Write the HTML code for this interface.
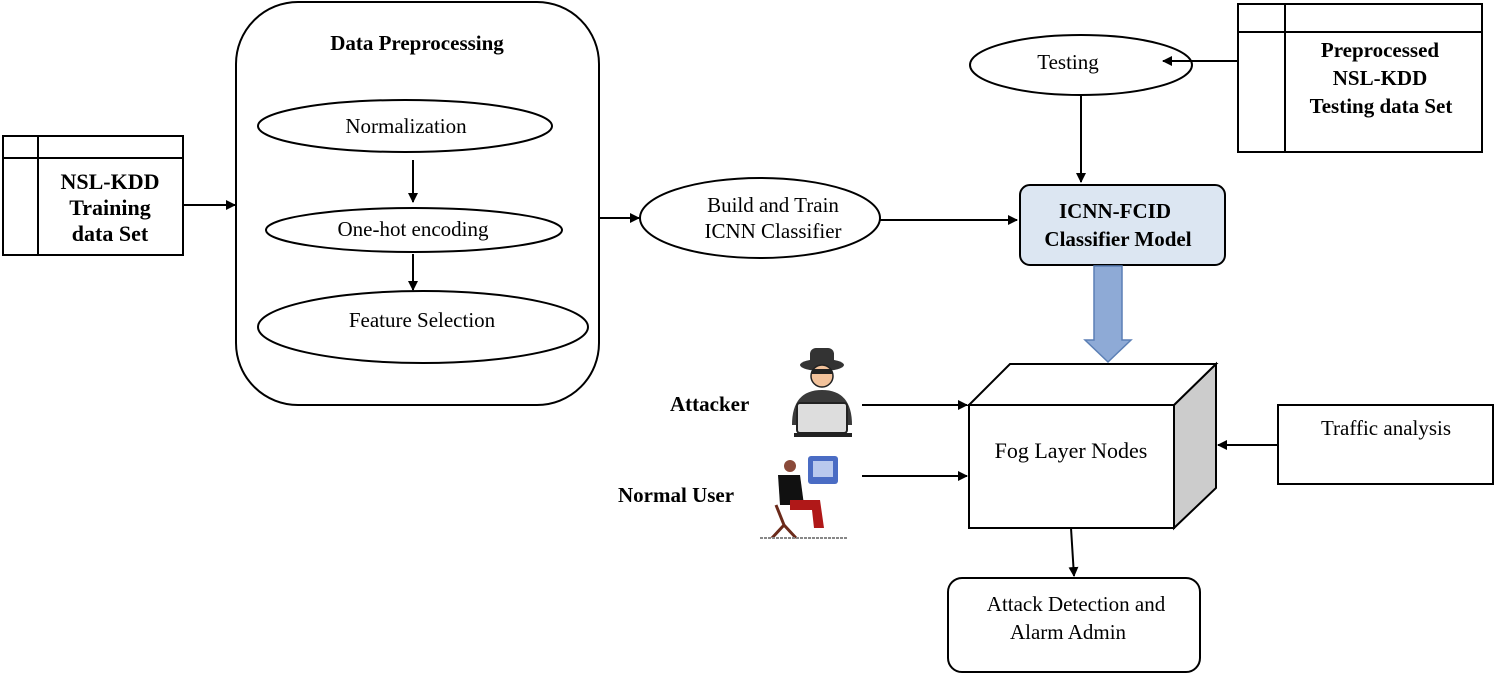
<!DOCTYPE html>
<html><head><meta charset="utf-8"><style>html,body{margin:0;padding:0;background:#fff}svg{display:block}</style></head><body>
<svg width="1494" height="678" viewBox="0 0 1494 678" xmlns="http://www.w3.org/2000/svg" font-family="Liberation Serif, serif" fill="none" stroke="#000" stroke-width="2">
<defs><marker id="a" markerWidth="10" markerHeight="10" refX="9" refY="5" orient="auto" markerUnits="userSpaceOnUse"><path d="M0,0L10,5L0,10z" fill="#000" stroke="none"/></marker></defs>
<!-- Training box -->
<rect x="3" y="136" width="180" height="119"/><line x1="38" y1="136" x2="38" y2="255"/><line x1="3" y1="158" x2="183" y2="158"/>
<g fill="#000" stroke="none" font-weight="bold" font-size="22" text-anchor="middle"><text x="110" y="189">NSL-KDD</text><text x="110" y="215">Training</text><text x="110" y="241">data Set</text></g>
<line x1="183" y1="205" x2="235" y2="205" marker-end="url(#a)"/>
<!-- Preprocessing -->
<rect x="236" y="2" width="363" height="403" rx="62"/>
<text x="417" y="50" fill="#000" stroke="none" font-weight="bold" font-size="21" text-anchor="middle">Data Preprocessing</text>
<ellipse cx="405" cy="126" rx="147" ry="26"/><ellipse cx="414" cy="230" rx="148" ry="22"/><ellipse cx="423" cy="327" rx="165" ry="36"/>
<line x1="413" y1="160" x2="413" y2="202" marker-end="url(#a)"/><line x1="413" y1="254" x2="413" y2="290" marker-end="url(#a)"/>
<g fill="#000" stroke="none" font-size="21" text-anchor="middle"><text x="406" y="133">Normalization</text><text x="413" y="236">One-hot encoding</text><text x="422" y="327">Feature Selection</text></g>
<line x1="599" y1="218" x2="639" y2="218" marker-end="url(#a)"/>
<ellipse cx="760" cy="218" rx="120" ry="40"/>
<g fill="#000" stroke="none" font-size="21" text-anchor="middle"><text x="773" y="212">Build and Train</text><text x="773" y="238">ICNN Classifier</text></g>
<line x1="880" y1="220" x2="1017" y2="220" marker-end="url(#a)"/>
<!-- ICNN -->
<rect x="1020" y="185" width="205" height="80" rx="10" fill="#dce6f2"/>
<g fill="#000" stroke="none" font-weight="bold" font-size="21" text-anchor="middle"><text x="1115" y="218">ICNN-FCID</text><text x="1118" y="246">Classifier Model</text></g>
<!-- Testing -->
<ellipse cx="1081" cy="65" rx="111" ry="30"/>
<text x="1068" y="69" fill="#000" stroke="none" font-size="21" text-anchor="middle">Testing</text>
<line x1="1081" y1="95" x2="1081" y2="182" marker-end="url(#a)"/>
<rect x="1238" y="4" width="244" height="148"/><line x1="1285" y1="4" x2="1285" y2="152"/><line x1="1238" y1="32" x2="1482" y2="32"/>
<g fill="#000" stroke="none" font-weight="bold" font-size="21" text-anchor="middle"><text x="1380" y="57">Preprocessed</text><text x="1380" y="85">NSL-KDD</text><text x="1381" y="113">Testing data Set</text></g>
<line x1="1238" y1="61" x2="1163" y2="61" marker-end="url(#a)"/>
<!-- block arrow -->
<path d="M1094,266 L1122,266 L1122,340 L1131,340 L1108,362 L1085,340 L1094,340 Z" fill="#8eaad6" stroke="#5b7fb5" stroke-width="1.5"/>
<!-- Cube -->
<path d="M1174,405 L1216,364 L1216,488 L1174,528 Z" fill="#cccccc"/>
<path d="M969,405 L1010,364 L1216,364 L1174,405 Z" fill="#fff"/>
<rect x="969" y="405" width="205" height="123" fill="#fff"/>
<text x="1071" y="458" fill="#000" stroke="none" font-size="22" text-anchor="middle">Fog  Layer Nodes</text>
<line x1="862" y1="405" x2="967" y2="405" marker-end="url(#a)"/>
<line x1="862" y1="476" x2="967" y2="476" marker-end="url(#a)"/>
<rect x="1278" y="405" width="215" height="79"/>
<text x="1386" y="435" fill="#000" stroke="none" font-size="21" text-anchor="middle">Traffic analysis</text>
<line x1="1278" y1="445" x2="1218" y2="445" marker-end="url(#a)"/>
<line x1="1071" y1="528" x2="1074" y2="576" marker-end="url(#a)"/>
<rect x="948" y="578" width="252" height="94" rx="14"/>
<g fill="#000" stroke="none" font-size="21" text-anchor="middle"><text x="1076" y="611">Attack Detection  and</text><text x="1068" y="639">Alarm Admin</text></g>
<!-- labels -->
<g fill="#000" stroke="none" font-weight="bold" font-size="21"><text x="670" y="411">Attacker</text><text x="618" y="502">Normal User</text></g>
<!-- attacker icon -->
<g stroke="none">
<ellipse cx="822" cy="365" rx="22" ry="6" fill="#333"/><rect x="810" y="348" width="24" height="18" rx="6" fill="#333"/>
<circle cx="822" cy="376" r="11" fill="#f2c29b" stroke="#222" stroke-width="1.5"/>
<rect x="812" y="369" width="20" height="5" fill="#222"/>
<path d="M792,425 Q792,390 822,390 Q852,390 852,425 Z" fill="#3a3a3a"/>
<rect x="797" y="403" width="50" height="30" rx="3" fill="#ddd" stroke="#222" stroke-width="2"/>
<rect x="794" y="433" width="58" height="4" fill="#222"/>
</g>
<!-- normal user icon -->
<g stroke="none">
<rect x="808" y="456" width="30" height="28" rx="3" fill="#4a6cc4"/><rect x="813" y="461" width="20" height="16" fill="#b9c9ee"/>
<circle cx="790" cy="466" r="6" fill="#8a4a3a"/>
<path d="M778,475 L800,475 L804,505 L780,505 Z" fill="#111"/>
<path d="M790,500 L820,500 L824,528 L814,528 L812,510 L790,510 Z" fill="#b01818"/>
<path d="M776,505 L784,525 L772,538 M784,525 L796,538" stroke="#6b2a1a" stroke-width="3"/>
<line x1="760" y1="538" x2="848" y2="538" stroke="#888" stroke-width="2" stroke-dasharray="3,1"/>
</g>
</svg>
</body></html>
